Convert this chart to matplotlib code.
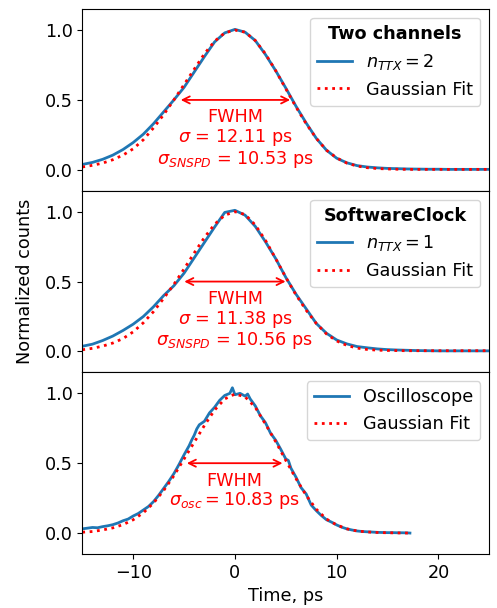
import numpy as np
import matplotlib
matplotlib.use("Agg")
import matplotlib.pyplot as plt

# time grid for the histogram panels (ps)
t_hist = list(range(-15, 26))

# Two channels, n_TTX = 2
counts_two = [0.038, 0.053, 0.075, 0.105, 0.145, 0.195, 0.255, 0.33, 0.415, 0.50,
              0.59, 0.70, 0.81, 0.915, 0.98, 1.005, 0.985, 0.925, 0.825, 0.71,
              0.585, 0.455, 0.335, 0.225, 0.14, 0.083, 0.05, 0.03, 0.02, 0.014,
              0.01, 0.008, 0.006, 0.005, 0.004, 0.004, 0.003, 0.003, 0.003, 0.003, 0.003]
fit_two = [0.02, 0.032, 0.048, 0.072, 0.105, 0.15, 0.215, 0.30, 0.395, 0.50,
           0.61, 0.72, 0.83, 0.92, 0.98, 1.0, 0.985, 0.925, 0.83, 0.71,
           0.58, 0.45, 0.33, 0.225, 0.14, 0.085, 0.048, 0.027, 0.015, 0.009,
           0.006, 0.004, 0.003, 0.003, 0.003, 0.003, 0.003, 0.003, 0.003, 0.003, 0.003]

# SoftwareClock, n_TTX = 1
counts_soft = [0.037, 0.052, 0.078, 0.11, 0.15, 0.195, 0.25, 0.32, 0.40, 0.47,
               0.56, 0.67, 0.78, 0.89, 0.995, 1.01, 0.975, 0.895, 0.785, 0.665,
               0.53, 0.41, 0.305, 0.20, 0.13, 0.082, 0.054, 0.035, 0.026, 0.018,
               0.013, 0.01, 0.008, 0.006, 0.005, 0.004, 0.004, 0.004, 0.004, 0.004, 0.004]
fit_soft = [0.012, 0.022, 0.038, 0.06, 0.092, 0.14, 0.205, 0.285, 0.38, 0.48,
            0.59, 0.705, 0.815, 0.91, 0.975, 1.0, 0.98, 0.905, 0.795, 0.665,
            0.53, 0.405, 0.295, 0.20, 0.125, 0.075, 0.043, 0.024, 0.014, 0.009,
            0.007, 0.006, 0.005, 0.005, 0.005, 0.005, 0.005, 0.005, 0.005, 0.005, 0.005]

# Oscilloscope trace
t_osc = [-15.0, -14.5, -14.0, -13.5, -13.0, -12.5, -12.0, -11.5, -11.0, -10.5,
         -10.0, -9.5, -9.0, -8.5, -8.0, -7.5, -7.0, -6.5, -6.0, -5.5,
         -5.0, -4.5, -4.25, -4.0, -3.75, -3.5, -3.0, -2.5, -2.0, -1.5,
         -1.0, -0.5, -0.25, 0.0, 0.5, 1.0, 1.25, 1.5, 2.0, 2.5,
         3.0, 3.5, 4.0, 4.5, 5.0, 5.25, 5.5, 6.0, 6.5, 7.0,
         7.25, 7.5, 8.0, 8.5, 9.0, 9.5, 10.0, 10.5, 11.0, 11.5,
         12.0, 12.5, 13.0, 13.5, 14.0, 14.5, 15.0, 15.5, 16.0, 16.5, 17.0, 17.2]
v_osc = [0.030, 0.035, 0.040, 0.038, 0.046, 0.052, 0.060, 0.072, 0.088, 0.100,
         0.122, 0.140, 0.165, 0.190, 0.225, 0.270, 0.320, 0.370, 0.425, 0.490,
         0.560, 0.625, 0.665, 0.700, 0.745, 0.775, 0.800, 0.860, 0.900, 0.950,
         0.985, 1.000, 1.040, 0.990, 1.000, 0.980, 0.995, 0.960, 0.910, 0.840,
         0.790, 0.715, 0.665, 0.600, 0.530, 0.520, 0.465, 0.400, 0.325, 0.280,
         0.240, 0.200, 0.160, 0.125, 0.095, 0.078, 0.058, 0.042, 0.030, 0.022,
         0.015, 0.011, 0.009, 0.007, 0.005, 0.004, 0.003, 0.003, 0.002, 0.002, 0.001, 0.0]
t_osc_fit = list(range(-15, 18))
fit_osc = [0.006, 0.011, 0.022, 0.037, 0.06, 0.095, 0.145, 0.215, 0.305, 0.41,
           0.53, 0.65, 0.77, 0.88, 0.96, 0.995, 0.975, 0.90, 0.78, 0.655,
           0.52, 0.39, 0.27, 0.17, 0.10, 0.058, 0.03, 0.015, 0.008, 0.004,
           0.002, 0.001, 0.0]

# FWHM arrow ends (ps)
fwhm_two = (-5.6, 5.7)
fwhm_soft = (-5.25, 5.25)
fwhm_osc = (-5.0, 4.95)

text_two = "FWHM\n$\\sigma$ = 12.11 ps\n$\\sigma_{SNSPD}$ = 10.53 ps"
text_soft = "FWHM\n$\\sigma$ = 11.38 ps\n$\\sigma_{SNSPD}$ = 10.56 ps"
text_osc = "FWHM\n$\\sigma_{osc} = 10.83$ ps"

fs = 12.7
plt.rcParams['font.size'] = fs

fig, axes = plt.subplots(3, 1, figsize=(4.97, 6.08), dpi=100, sharex=True)
fig.subplots_adjust(left=0.1656, right=0.9845, top=0.985, bottom=0.0888, hspace=0)

panels = [
    (t_hist, counts_two, t_hist, fit_two, "$n_{TTX} = 2$", "Two channels", fwhm_two, text_two),
    (t_hist, counts_soft, t_hist, fit_soft, "$n_{TTX} = 1$", "SoftwareClock", fwhm_soft, text_soft),
    (t_osc, v_osc, t_osc_fit, fit_osc, "Oscilloscope", None, fwhm_osc, text_osc),
]

for ax, (tx, vy, tf, vf, lab, title, fw, txt) in zip(axes, panels):
    ax.plot(tx, vy, color='tab:blue', lw=2, label=lab)
    ax.plot(tf, vf, color='red', ls=':', lw=2, label="Gaussian Fit")
    ax.annotate("", xy=(fw[0], 0.5), xytext=(fw[1], 0.5),
                arrowprops=dict(arrowstyle='<->', color='red', lw=1.3))
    ax.text((fw[0] + fw[1]) / 2, 0.44, txt, color='red', ha='center', va='top',
            fontsize=fs, linespacing=1.05)
    leg = ax.legend(loc='upper right', title=title, fontsize=fs)
    if title:
        leg.get_title().set_fontweight('bold')
        leg.get_title().set_fontsize(fs)
    ax.set_ylim(-0.15, 1.15)
    ax.set_yticks([0.0, 0.5, 1.0])

axes[2].set_xlim(-15, 25)
axes[2].set_xticks([-10, 0, 10, 20])
axes[2].set_xlabel("Time, ps")
axes[1].set_ylabel("Normalized counts", labelpad=8)

fig.savefig("out.png", dpi=100)
